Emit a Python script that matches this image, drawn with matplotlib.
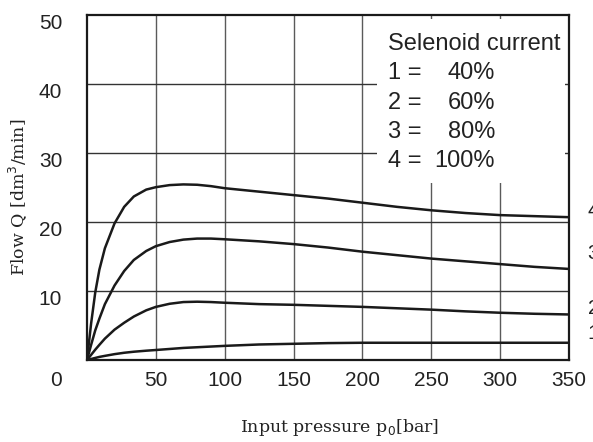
import matplotlib.pyplot as plt

# input pressure p0 [bar]
p = [0, 3, 6, 9, 13, 20, 27, 34, 43, 50, 60, 70, 80, 90, 100,
     125, 150, 175, 200, 225, 250, 275, 300, 325, 350]

# flow Q [dm3/min] for each selenoid current
q_40 = [0, 0.15, 0.3, 0.45, 0.6, 0.85, 1.05, 1.2, 1.35, 1.45, 1.6, 1.75, 1.85, 1.95, 2.05,
        2.25, 2.35, 2.45, 2.5, 2.5, 2.5, 2.5, 2.5, 2.5, 2.5]
q_60 = [0, 0.75, 1.5, 2.2, 3.1, 4.4, 5.4, 6.3, 7.2, 7.7, 8.15, 8.4, 8.45, 8.4, 8.3,
        8.1, 8.0, 7.85, 7.7, 7.5, 7.3, 7.05, 6.85, 6.7, 6.6]
q_80 = [0, 2.2, 4.3, 6.0, 8.1, 10.8, 12.9, 14.5, 15.8, 16.5, 17.1, 17.45, 17.6, 17.6, 17.5,
        17.2, 16.8, 16.3, 15.7, 15.2, 14.7, 14.3, 13.9, 13.5, 13.2]
q_100 = [0, 5.3, 9.8, 13.1, 16.2, 19.8, 22.2, 23.7, 24.7, 25.05, 25.35, 25.45, 25.4, 25.2, 24.9,
         24.4, 23.9, 23.4, 22.8, 22.2, 21.7, 21.3, 21.0, 20.85, 20.7]

curves = [q_40, q_60, q_80, q_100]
curve_labels = ["1", "2", "3", "4"]

x_ticks = [50, 100, 150, 200, 250, 300, 350]
y_ticks = [10, 20, 30, 40, 50]

legend_title = "Selenoid current"
legend_keys = ["1 =", "2 =", "3 =", "4 ="]
legend_vals = ["40%", "60%", "80%", "100%"]

fig = plt.figure(figsize=(5.93, 4.42), dpi=100)
ax = fig.add_axes([0.1467, 0.1855, 0.8128, 0.7805])

ax.set_xlim(0, 350)
ax.set_ylim(0, 50)

for xv in x_ticks[:-1]:
    ax.axvline(xv, color="#5a5a5a", lw=1.0, zorder=1)
for yv in y_ticks[:-1]:
    ax.axhline(yv, color="#333333", lw=1.0, zorder=1)

for q in curves:
    ax.plot(p, q, color="#1a1a1a", lw=1.8, zorder=3,
            solid_capstyle="round", solid_joinstyle="round")

for s in ax.spines.values():
    s.set_linewidth(1.6)
    s.set_color("#1a1a1a")
    s.set_zorder(6)

ax.set_xticks([])
ax.set_yticks([])

txt = dict(fontsize=15, family="Liberation Sans", color="#222222")

# tick labels drawn as text so they sit where the original puts them
for xv in x_ticks:
    ax.text(xv, -3.0, str(xv), ha="center", va="center", **txt)
for yv in y_ticks:
    ax.text(-18, yv - 1.2, str(yv), ha="right", va="center", **txt)
ax.text(-18, -3.0, "0", ha="right", va="center", **txt)

# curve numbers at the right edge (cut off by the figure, as in the original)
label_y = [3.9, 7.5, 15.4, 21.6]
for lab, yv in zip(curve_labels, label_y):
    ax.text(363.5, yv, lab, ha="left", va="center", clip_on=False, **txt)

# legend box
ax.add_patch(plt.Rectangle((210.6, 25.65), 136.4, 23.75, facecolor="white",
                           edgecolor="none", zorder=4))
ltxt = dict(fontsize=17, family="Liberation Sans", color="#222222", zorder=5)
ax.text(218.6, 45.0, legend_title, ha="left", va="baseline", **ltxt)
for i, (k, v) in enumerate(zip(legend_keys, legend_vals)):
    yb = 40.7 - i * 4.25
    ax.text(218.6, yb, k, ha="left", va="baseline", **ltxt)
    ax.text(296.3, yb, v, ha="right", va="baseline", **ltxt)

fig.text(0.03, 0.554, "Flow Q [dm$^3$/min]", rotation=90, ha="center", va="center",
         fontsize=12.5, family="DejaVu Serif", color="#222222")
fig.text(0.573, 0.032, "Input pressure p$_0$[bar]", ha="center", va="center",
         fontsize=12.5, family="DejaVu Serif", color="#222222")

fig.savefig("out.png", dpi=100)
